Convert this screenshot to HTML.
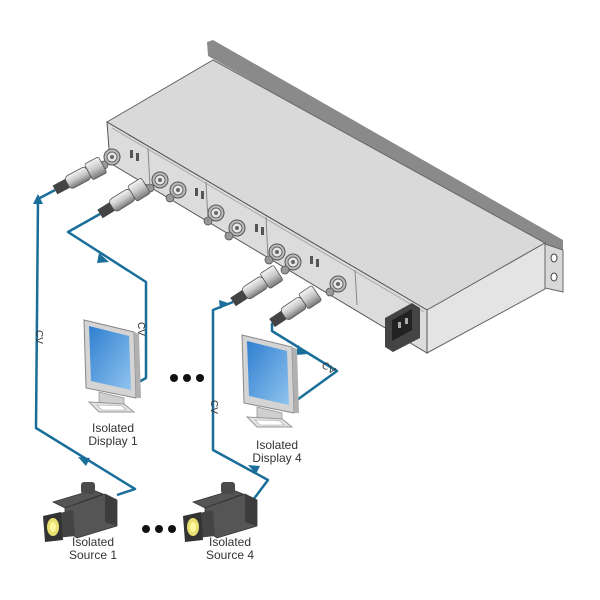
<!DOCTYPE html>
<html><head><meta charset="utf-8"><style>
html,body{margin:0;padding:0;background:#fff;}
svg{display:block;}
text{font-family:"Liberation Sans",sans-serif;fill:#333;}
</style></head><body>
<svg width="600" height="600" viewBox="0 0 600 600" xmlns="http://www.w3.org/2000/svg">
<defs>
<linearGradient id="scr" x1="0" y1="0" x2="1" y2="1"><stop offset="0" stop-color="#2f7fd0"/><stop offset="1" stop-color="#8fc3ee"/></linearGradient>
<linearGradient id="plug" x1="0" y1="0" x2="0" y2="1"><stop offset="0" stop-color="#f4f4f4"/><stop offset="0.5" stop-color="#c8c8c8"/><stop offset="1" stop-color="#777"/></linearGradient>
<g id="bnc"><circle r="8" fill="#bbb" stroke="#555" stroke-width="1"/><circle r="5" fill="#e6e6e6" stroke="#666" stroke-width="1"/><circle r="2" fill="#666"/></g>
<g id="pl"><rect x="0" y="-5" width="14" height="10" fill="#444"/><rect x="14" y="-7" width="24" height="14" rx="4" fill="url(#plug)" stroke="#555" stroke-width="0.8"/><rect x="38" y="-9" width="16" height="18" rx="2" fill="url(#plug)" stroke="#555" stroke-width="0.8"/></g>
<g id="mon">
<polygon points="0,0 50,12 52,78 2,68" fill="#d4d4d4" stroke="#888" stroke-width="1"/>
<polygon points="5,6 45,16 47,70 7,61" fill="url(#scr)"/>
<polygon points="50,12 55,14 57,78 52,78" fill="#b0b0b0"/>
<polygon points="15,72 40,78 40,86 15,82" fill="#cfcfcf" stroke="#999" stroke-width="0.8"/>
<polygon points="5,82 40,84 50,92 15,92" fill="#e2e2e2" stroke="#999" stroke-width="1"/>
<polygon points="13,85 38,86 42,90 18,90" fill="#fff" stroke="#aaa" stroke-width="0.6"/>
</g>
<g id="cam">
<polygon points="10,22 50,10 60,14 22,28" fill="#555" stroke="#333" stroke-width="0.8"/>
<rect x="38" y="2" width="14" height="12" rx="3" fill="#4a4a4a"/>
<polygon points="22,28 62,14 74,20 74,46 34,58 22,50" fill="#555" stroke="#333" stroke-width="0.8"/>
<polygon points="62,14 74,20 74,46 62,42" fill="#3c3c3c"/>
<polygon points="12,34 30,30 32,56 14,58" fill="#444"/>
<polygon points="0,36 18,32 20,60 2,62" fill="#333"/>
<ellipse cx="10" cy="47" rx="6" ry="9" fill="#e8e070"/>
<ellipse cx="10" cy="47" rx="3" ry="5" fill="#fff8a0"/>
</g>
</defs>

<polygon points="207,42 213,40 563,240 563,292 545,288 545,247 208,56" fill="#8a8a8a"/>
<polygon points="545,244 563,250 563,292 545,288" fill="#d8d8d8" stroke="#666" stroke-width="1"/>
<ellipse cx="554" cy="258" rx="3" ry="4" fill="#fff" stroke="#444"/>
<ellipse cx="554" cy="277" rx="3" ry="4" fill="#fff" stroke="#444"/>
<polygon points="213,60 545,243 427,310 107,122" fill="#d9d9d9" stroke="#666" stroke-width="1"/>
<polygon points="427,310 545,243 545,289 427,353" fill="#e4e4e4" stroke="#666" stroke-width="1"/>
<polygon points="107,122 427,310 427,353 110,163" fill="#dcdcdc" stroke="#555" stroke-width="1"/>
<line x1="112" y1="128" x2="424" y2="312" stroke="#aaa" stroke-width="1"/>
<polygon points="385,318 412,303 420,308 420,338 393,352 385,347" fill="#444"/>
<polygon points="392,320 412,309 412,330 392,341" fill="#222"/>
<rect x="398" y="322" width="3" height="6" fill="#aaa"/><rect x="405" y="318" width="3" height="6" fill="#aaa"/>
<use href="#bnc" x="112" y="157"/><use href="#bnc" x="160" y="180"/><use href="#bnc" x="178" y="190"/>
<use href="#bnc" x="216" y="213"/><use href="#bnc" x="237" y="228"/><use href="#bnc" x="277" y="252"/>
<use href="#bnc" x="293" y="262"/><use href="#bnc" x="338" y="284"/>
<g fill="#999" stroke="#555" stroke-width="0.8">
<circle cx="104" cy="165" r="4"/><circle cx="150" cy="188" r="4"/><circle cx="170" cy="198" r="4"/><circle cx="208" cy="221" r="4"/><circle cx="229" cy="236" r="4"/><circle cx="269" cy="260" r="4"/><circle cx="285" cy="270" r="4"/><circle cx="330" cy="292" r="4"/>
</g>
<g fill="#555"><rect x="130" y="150" width="3" height="8"/><rect x="136" y="153" width="3" height="8"/><rect x="195" y="188" width="3" height="8"/><rect x="201" y="191" width="3" height="8"/><rect x="255" y="224" width="3" height="8"/><rect x="261" y="227" width="3" height="8"/><rect x="310" y="256" width="3" height="8"/><rect x="316" y="259" width="3" height="8"/></g>
<g stroke="#888" stroke-width="1"><line x1="148" y1="148" x2="150" y2="188"/><line x1="206" y1="182" x2="208" y2="222"/><line x1="266" y1="217" x2="268" y2="258"/><line x1="355" y1="270" x2="357" y2="305"/></g>

<g fill="none" stroke="#1a6e9a" stroke-width="2.5" stroke-linejoin="round">
<path d="M55,190 L38,199 L36,428 L135,489 L117,495"/>
<path d="M100,214 L68,232 L146,282 L146,378 L137,383"/>
<path d="M233,302 L213,310 L213,450 L268,480 L253,500"/>
<path d="M272,323 L272,331 L337,371 L297,400"/>
</g>
<g fill="#1a6e9a">
<polygon points="38,194 33,204 43,204"/>
<polygon points="78,457 90,458 86,466"/>
<polygon points="109,262 99,253 97,263"/>
<polygon points="228,303 219,300 220,309"/>
<polygon points="248,465 260,466 256,474"/>
<polygon points="308,354 298,345 296,355"/>
</g>
<use href="#pl" transform="translate(55,190) rotate(-28)"/>
<use href="#pl" transform="translate(100,214) rotate(-32)"/>
<use href="#pl" transform="translate(233,302) rotate(-33)"/>
<use href="#pl" transform="translate(272,323) rotate(-34)"/>

<text transform="translate(36,330) rotate(90)" font-size="10">CV</text>
<text transform="translate(138,322) rotate(90)" font-size="10">CV</text>
<text transform="translate(211,400) rotate(90)" font-size="10">CV</text>
<text transform="translate(321,367) rotate(32)" font-size="10">CV</text>

<use href="#mon" x="84" y="320"/>
<use href="#mon" x="242" y="335"/>
<use href="#cam" x="43" y="480"/>
<use href="#cam" x="183" y="480"/>

<g fill="#111"><circle cx="174" cy="378" r="4"/><circle cx="187" cy="378" r="4"/><circle cx="200" cy="378" r="4"/>
<circle cx="146" cy="529" r="4"/><circle cx="159" cy="529" r="4"/><circle cx="172" cy="529" r="4"/></g>

<g font-size="12" text-anchor="middle">
<text x="113" y="432">Isolated</text><text x="113" y="445">Display 1</text>
<text x="277" y="449">Isolated</text><text x="277" y="462">Display 4</text>
<text x="93" y="546">Isolated</text><text x="93" y="559">Source 1</text>
<text x="230" y="546">Isolated</text><text x="230" y="559">Source 4</text>
</g>
</svg>
</body></html>
